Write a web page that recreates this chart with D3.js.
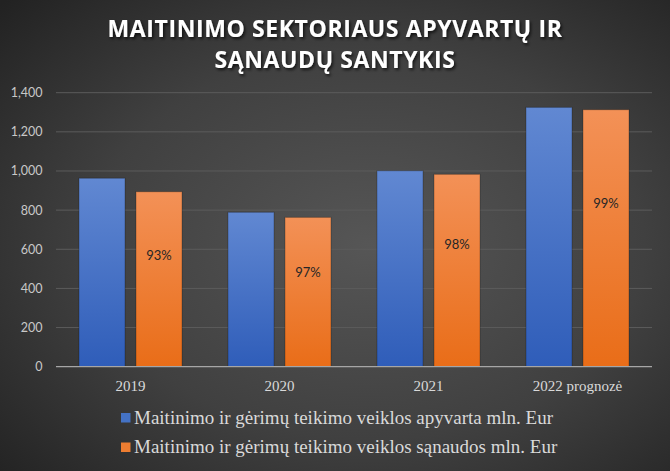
<!DOCTYPE html>
<html><head><meta charset="utf-8">
<script src="https://cdn.jsdelivr.net/npm/d3@7"></script>
<style>html,body{margin:0;padding:0;background:#2a2a2a;}svg{display:block;}</style>
</head><body>
<svg id="chart" width="670" height="471"></svg>
<script>
const categories = ["2019", "2020", "2021", "2022 prognozė"];
const seriesNames = ["Maitinimo ir gėrimų teikimo veiklos apyvarta mln. Eur",
                     "Maitinimo ir gėrimų teikimo veiklos sąnaudos mln. Eur"];
const turnover = [963, 789, 1001, 1325];
const costs = [894, 763, 983, 1313];
const yTicks = [0, 200, 400, 600, 800, 1000, 1200, 1400];
const titleLines = ["MAITINIMO SEKTORIAUS APYVARTŲ IR", "SĄNAUDŲ SANTYKIS"];

(function(){
const W = 670, H = 471;
const svg = d3.select("#chart");
const defs = svg.append("defs");

const bg = defs.append("radialGradient").attr("id","bg")
  .attr("cx", 0.55).attr("cy", 0.52).attr("r", 0.75);
bg.append("stop").attr("offset","0%").attr("stop-color","#565656");
bg.append("stop").attr("offset","55%").attr("stop-color","#404040");
bg.append("stop").attr("offset","100%").attr("stop-color","#222222");

const gBlue = defs.append("linearGradient").attr("id","gBlue").attr("x1",0).attr("y1",0).attr("x2",0).attr("y2",1);
gBlue.append("stop").attr("offset","0%").attr("stop-color","#6188d2");
gBlue.append("stop").attr("offset","100%").attr("stop-color","#2f5db9");
const gOrange = defs.append("linearGradient").attr("id","gOrange").attr("x1",0).attr("y1",0).attr("x2",0).attr("y2",1);
gOrange.append("stop").attr("offset","0%").attr("stop-color","#f39157");
gOrange.append("stop").attr("offset","100%").attr("stop-color","#e96d18");

const shadow = defs.append("filter").attr("id","tshadow").attr("x","-10%").attr("y","-30%").attr("width","120%").attr("height","160%");
shadow.append("feDropShadow").attr("dx",1.5).attr("dy",2).attr("stdDeviation",1.5).attr("flood-color","#000").attr("flood-opacity",0.7);

svg.append("rect").attr("width",W).attr("height",H).attr("fill","url(#bg)");

// title
svg.append("g").selectAll("text").data(titleLines).join("text")
  .attr("x", W/2).attr("y", (d,i) => 36.5 + i*31)
  .attr("text-anchor","middle")
  .attr("font-family","'Open Sans', sans-serif").attr("font-weight","bold")
  .attr("font-size", 23).attr("fill","#ffffff")
  .attr("letter-spacing", 0.6)
  .attr("filter","url(#tshadow)")
  .text(d => d);

const pLeft = 56, pRight = 652, pTop = 92.7, pBottom = 366.7;
const y = d3.scaleLinear().domain([0, 1400]).range([pBottom, pTop]);
const x = d3.scaleBand().domain(categories).range([pLeft, pRight]).paddingInner(0).paddingOuter(0);
const xs = d3.scaleBand().domain([0,1]).range([23, x.bandwidth()-23]).paddingInner(0.193).paddingOuter(0);

// gridlines
svg.append("g").selectAll("line").data(yTicks.filter(t => t > 0)).join("line")
  .attr("x1", pLeft).attr("x2", pRight)
  .attr("y1", d => y(d)).attr("y2", d => y(d))
  .attr("stroke","#5c5c5c").attr("stroke-width",1);

// y tick labels
svg.append("g").selectAll("text").data(yTicks).join("text")
  .attr("x", 42.5).attr("y", d => y(d)).attr("dy","0.36em")
  .attr("text-anchor","end")
  .attr("font-family","Lato, sans-serif").attr("font-size",12.5)
  .attr("fill","#c8c8c8")
  .text(d => d3.format(",")(d));

const series = [turnover, costs];
const fills = ["url(#gBlue)", "url(#gOrange)"];
const swatch = ["#4472c4", "#ed7d31"];

const groups = svg.append("g").selectAll("g").data(categories).join("g")
  .attr("transform", d => `translate(${x(d)},0)`);
groups.selectAll("rect").data((d,i) => series.map((s,k) => ({k, v: s[i]}))).join("rect")
  .attr("x", d => xs(d.k)).attr("width", xs.bandwidth())
  .attr("y", d => y(d.v)).attr("height", d => y(0) - y(d.v))
  .attr("fill", d => fills[d.k])
  .attr("stroke", "rgba(0,0,0,0.25)").attr("stroke-width", 1);

// percent labels
groups.append("text")
  .attr("x", xs(1) + xs.bandwidth()/2)
  .attr("y", (d,i) => y(costs[i]*0.635))
  .attr("dy","0.36em")
  .attr("text-anchor","middle")
  .attr("font-family","Lato, sans-serif").attr("font-size",13)
  .attr("fill","#262626")
  .text((d,i) => Math.round(costs[i]/turnover[i]*100) + "%");

// axis line
svg.append("line").attr("x1", pLeft).attr("x2", pRight).attr("y1", y(0)).attr("y2", y(0))
  .attr("stroke","#a6a6a6").attr("stroke-width",1.3);

// category labels
svg.append("g").selectAll("text").data(categories).join("text")
  .attr("x", d => x(d) + x.bandwidth()/2).attr("y", 391)
  .attr("text-anchor","middle")
  .attr("font-family","'Liberation Serif', serif").attr("font-size",15)
  .attr("fill","#d9d9d9")
  .text(d => d);

// legend
const lg = svg.append("g").selectAll("g").data(seriesNames).join("g")
  .attr("transform", (d,i) => `translate(121,${413 + i*29.5})`);
lg.append("rect").attr("width",9.5).attr("height",9.5).attr("fill",(d,i)=>swatch[i]);
lg.append("text").attr("x", 13).attr("y", 10.5)
  .attr("font-family","'Liberation Serif', serif").attr("font-size",19)
  .attr("fill","#d9d9d9")
  .text(d => d);
})();
</script>
</body></html>
